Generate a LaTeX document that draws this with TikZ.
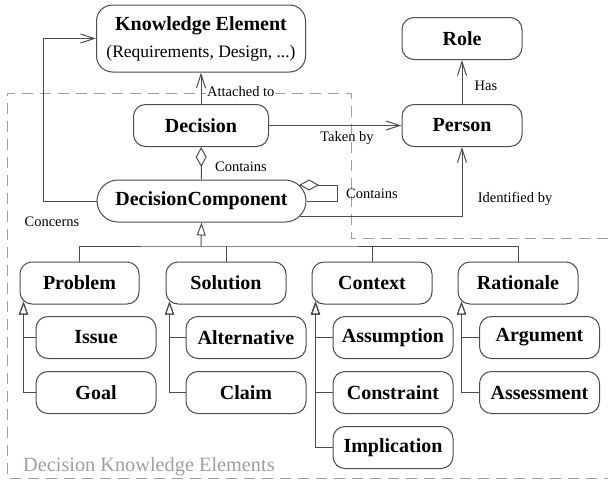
\documentclass[tikz,border=0pt]{standalone}
\usepackage{fontspec}
\setmainfont{Liberation Serif}
\usetikzlibrary{arrows.meta,                % arrow tips
                shapes.misc,                % rounded rectangle
                backgrounds}

\definecolor{linecol}{gray}{0.3}
\definecolor{areacol}{gray}{0.62}

\tikzset{
  box/.style={draw=linecol, line width=1pt, rounded corners=12pt, fill=white,
              minimum width=120pt, minimum height=42pt, inner sep=0pt,
              font=\fontsize{20}{24}\selectfont\bfseries},
  lbl/.style={font=\fontsize{14.5}{17}\selectfont, inner sep=1pt},
  conn/.style={draw=linecol, line width=1pt},
  assoc/.style={conn, -{Straight Barb[length=14pt,width=9pt]}},
  gen/.style={conn, -{Triangle[open,length=13pt,width=9pt]}},
  agg/.style={conn, {Diamond[open,length=20pt,width=11pt]}-},
}

\begin{document}
\begin{tikzpicture}[x=1pt,y=-1pt]
        \useasboundingbox (0,0) rectangle (608,482);
        % dashed area
        \draw[areacol, line width=1pt, dash pattern=on 11pt off 7pt]
            (608,238) -- (351,238) -- (351,93) -- (7,93) -- (7,478) -- (608,478);
        \node[anchor=base west, text=areacol, inner sep=0pt,
              font=\fontsize{20.3}{24}\selectfont] (area) at (23,471) {Decision Knowledge Elements};

        % upper part
        \node[box, minimum width=209pt, minimum height=67pt, rounded corners=16pt, align=center]
            (ke) at (201,38.5) {Knowledge Element\\[3pt]{\fontsize{17.5}{20}\selectfont\mdseries (Requirements, Design, ...)}};
        \node[box] (role) at (462,38.5) {Role};
        \node[box] (person) at (462,125.5) {Person};
        \node[box, minimum width=135pt] (dec) at (201,125.5) {Decision};
        \node[box, sharp corners, rounded rectangle, minimum width=209pt] (dc) at (201.5,201) {DecisionComponent};

        % components
        \node[box, minimum width=119pt] (problem) at (79.5,283) {Problem};
        \node[box] (solution) at (226,283) {Solution};
        \node[box] (context) at (372,283) {Context};
        \node[box] (rationale) at (518,283) {Rationale};
        \node[box] (issue) at (96,337.5) {Issue};
        \node[box] (goal) at (96,392.5) {Goal};
        \node[box] (alternative) at (246,337.5) {Alternative};
        \node[box] (claim) at (246,392.5) {Claim};
        \node[box] (assumption) at (393,337.5) {Assumption};
        \node[box] (constraint) at (393,392.5) {Constraint};
        \node[box] (implication) at (393,447.5) {Implication};
        \node[box] (argument) at (539.5,337.5) {Argument};
        \node[box] (assessment) at (539.5,392.5) {Assessment};

        % associations
        \draw[assoc] (dec) -- (ke);
        \node[lbl, fill=white, anchor=west] (attached) at (206,92) {Attached to};
        \draw[assoc] (dec) -- (person);
        \node[lbl] (taken) at (347,138) {Taken by};
        \draw[assoc] (person) -- (role);
        \node[lbl] (has) at (486,86) {Has};
        \draw[agg] (dec) -- (dc);
        \node[lbl] (contains) at (241,167) {Contains};
        \coordinate (dcself) at ([shift={(-7.4pt,16pt)}]dc.east);
        \draw[agg] (dcself) -- ++(38.4,0) |- (dc.east);
        \node[lbl] (containsself) at (372,194) {Contains};
        \draw[assoc] ([shift={(-6.3pt,-15pt)}]dc.east) -| (person.south);
        \node[lbl] (identified) at (515,199) {Identified by};
        \draw[assoc] (dc.west) -- (43,201) |- (ke.west);
        \node[lbl] (concerns) at (52,222) {Concerns};

        % generalization
        \coordinate (bus) at (201,246);
        \draw[conn] (problem.north) |- (bus) -| (rationale.north);
        \foreach \n in {solution,context}
            \draw[conn] (\n.north) -- (\n.north |- bus);
        \draw[gen] (bus) -- (dc.south);
        \foreach \p/\c in {problem/issue,problem/goal,solution/alternative,solution/claim,
                           context/assumption,context/constraint,context/implication,
                           rationale/argument,rationale/assessment}
            \draw[gen] (\c.west) -| ([shift={(4pt,3pt)}]\p.south west);
\end{tikzpicture}
\end{document}
